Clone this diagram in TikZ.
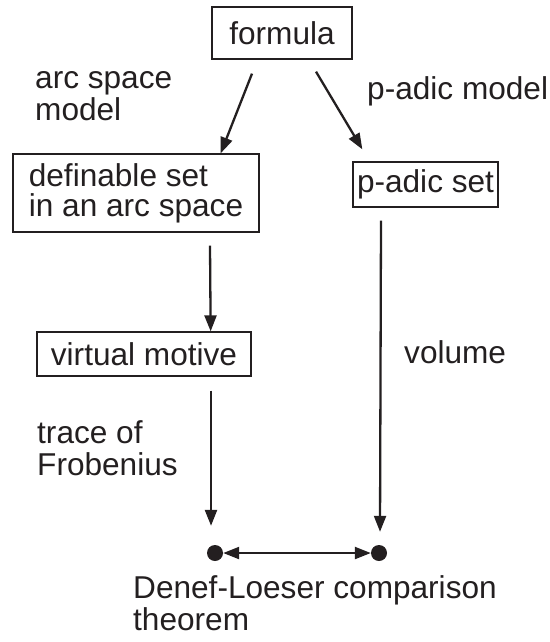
\documentclass[tikz,border=0pt]{standalone}
\usepackage{fontspec}
\setmainfont{Liberation Sans}
\usetikzlibrary{arrows.meta,calc}
\definecolor{ink}{HTML}{231F20}
\begin{document}
\begin{tikzpicture}[x=1pt,y=-1pt,
  every node/.style={font=\fontsize{31.6}{32}\selectfont, inner sep=0pt, text=ink},
  box/.style={draw=ink, line width=1.3pt, align=left},
  lbl/.style={anchor=base west, align=left},
  conn/.style={draw=ink, line width=2.3pt, -{Triangle[length=16pt,width=12pt]}},
  dot/.style={circle, fill=ink, minimum size=16pt, inner sep=0pt}]
\useasboundingbox (0,0) rectangle (549,642);
% boxes
\node[box, minimum width=140pt, minimum height=52pt] (formula) at (282,33) {formula};
\node[box, minimum width=246pt, minimum height=78pt, font=\fontsize{31.6}{30}\selectfont] (def) at (136,193) {definable set\\in an arc space};
\node[box, minimum width=145pt, minimum height=45pt] (padic) at (425.5,184.5) {p-adic set};
\node[box, minimum width=214pt, minimum height=44pt] (vm) at (144,354) {virtual motive};
% dots
\node[dot] (dl) at (215,553) {};
\node[dot] (dr) at (379,553) {};
% labels (base = baseline of last line)
\node[lbl] (l1) at (35,120) {arc space\\model};
\node[lbl] (l2) at (367,99) {p-adic model};
\node[lbl] (l3) at (404,363) {volume};
\node[lbl] (l4) at (37,475) {trace of\\Frobenius};
\node[lbl] (l5) at (133,630) {Denef-Loeser comparison\\theorem};
% connectors
\draw[conn] ($(formula.south)+(-30,14)$) -- ($(def.north east)+(-39,0)$);
\draw[conn] ($(formula.south)+(34,12)$) -- ($(padic.north west)+(10,-12)$);
\draw[conn] ($(def.south)+(74,13)$) -- ($(vm.north east)+(-41,0)$);
\draw[conn] ($(vm.south)+(67,14)$) -- ($(dl.north)+(-4,-19)$);
\draw[conn] ($(padic.south)+(-44.5,13)$) -- ($(dr.north)+(1,-13)$);
\draw[draw=ink, line width=2.3pt, {Triangle[length=16pt,width=12pt]}-{Triangle[length=16pt,width=12pt]}] (dl.east) -- (dr.west);
\end{tikzpicture}
\end{document}
